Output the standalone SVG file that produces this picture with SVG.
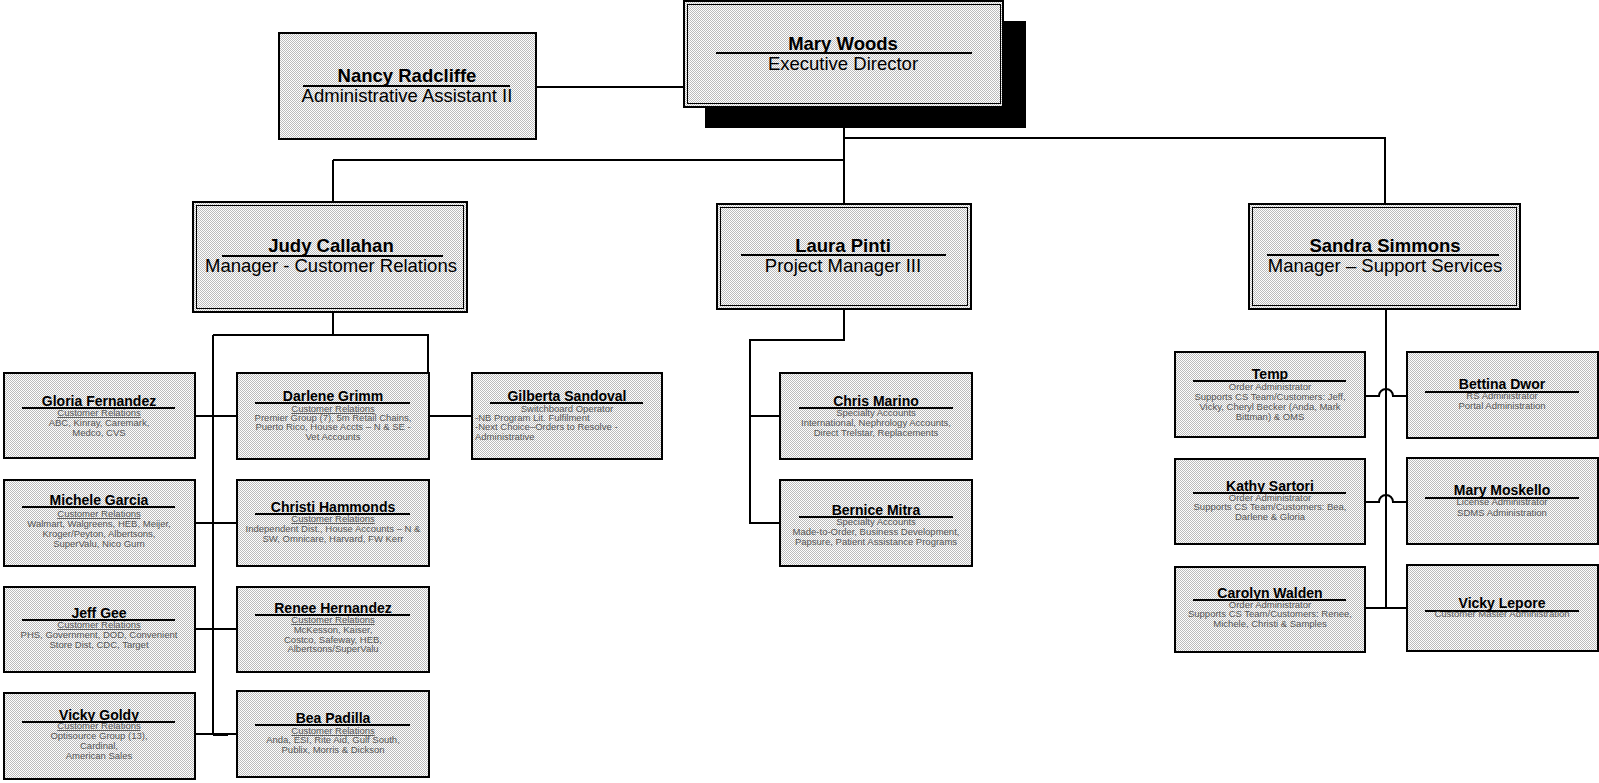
<svg xmlns="http://www.w3.org/2000/svg" width="1599" height="783" viewBox="0 0 1599 783">
<defs>
  <pattern id="dots" width="2" height="2" patternUnits="userSpaceOnUse">
    <rect width="2" height="2" fill="#ffffff"/>
    <rect width="1" height="1" fill="#bcbcbc"/>
    <rect x="1" y="1" width="1" height="1" fill="#bcbcbc"/>
  </pattern>
</defs>
<style>
  text { font-family: "Liberation Sans", Arial, sans-serif; }
  .box { fill: url(#dots); stroke: #000; stroke-width: 2; }
  .inner { fill: none; stroke: #000; stroke-width: 1; }
  .rule { stroke: #000; stroke-width: 2; }
  .big { font-size: 18.5px; font-weight: bold; text-anchor: middle; fill: #000; }
  .role { font-size: 18.5px; text-anchor: middle; fill: #000; }
  .nm { font-size: 14px; font-weight: bold; text-anchor: middle; fill: #000; }
  .ln { font-size: 9.5px; text-anchor: middle; fill: #555; }
  .lnl { font-size: 9.5px; fill: #555; }
  .ul { text-decoration: underline; }
  .wire { fill: none; stroke: #000; stroke-width: 2; }
</style>

<!-- connectors -->
<g id="connectors">
  <path class="wire" d="M536,87 H685"/>
  <path class="wire" d="M844,128 V204"/>
  <path class="wire" d="M844,138 H1385 V204"/>
  <path class="wire" d="M333,160 H844"/>
  <path class="wire" d="M333,160 V202"/>
  <path class="wire" d="M333,312 V335"/>
  <path class="wire" d="M213,335 H428 V416 H472"/>
  <path class="wire" d="M213,335 V735"/>
  <path class="wire" d="M195,416 H237"/>
  <path class="wire" d="M195,523 H237"/>
  <path class="wire" d="M195,629 H237"/>
  <path class="wire" d="M195,734 H237"/>
  <rect x="213" y="733" width="15" height="3" fill="#000"/>
  <path class="wire" d="M844,309 V340 H750 V523 H780"/>
  <path class="wire" d="M750,416 H780"/>
  <path class="wire" d="M1386,308 V608"/>
  <path class="wire" d="M1365,396 H1379 A7,7 0 0 1 1393,396 H1407"/>
  <path class="wire" d="M1365,502 H1379 A7,7 0 0 1 1393,502 H1407"/>
  <path class="wire" d="M1365,608 H1407"/>
</g>

<!-- top level -->
<g id="mary-woods">
  <rect x="705" y="21" width="321" height="107" fill="#000"/>
  <rect class="box" x="684" y="1" width="319" height="106"/>
  <rect class="inner" x="687.5" y="4.5" width="313" height="99"/>
  <line class="rule" x1="716" y1="53" x2="972" y2="53"/>
  <text class="big" x="843" y="50">Mary Woods</text>
  <text class="role" x="843" y="70">Executive Director</text>
</g>

<g id="nancy-radcliffe">
  <rect class="box" x="279" y="33" width="257" height="106"/>
  <line class="rule" x1="303" y1="86" x2="510" y2="86"/>
  <text class="big" x="407" y="82">Nancy Radcliffe</text>
  <text class="role" x="407" y="102">Administrative Assistant II</text>
</g>

<!-- managers -->
<g id="judy-callahan">
  <rect class="box" x="193" y="202" width="274" height="110"/>
  <rect class="inner" x="196.5" y="205.5" width="267" height="103"/>
  <line class="rule" x1="222" y1="256" x2="443" y2="256"/>
  <text class="big" x="331" y="252">Judy Callahan</text>
  <text class="role" x="331" y="272">Manager - Customer Relations</text>
</g>

<g id="laura-pinti">
  <rect class="box" x="717" y="204" width="254" height="105"/>
  <rect class="inner" x="720.5" y="207.5" width="247" height="98"/>
  <line class="rule" x1="741" y1="255" x2="946" y2="255"/>
  <text class="big" x="843" y="252">Laura Pinti</text>
  <text class="role" x="843" y="272">Project Manager III</text>
</g>

<g id="sandra-simmons">
  <rect class="box" x="1249" y="204" width="271" height="105"/>
  <rect class="inner" x="1252.5" y="207.5" width="264" height="98"/>
  <line class="rule" x1="1267" y1="255" x2="1499" y2="255"/>
  <text class="big" x="1385" y="252">Sandra Simmons</text>
  <text class="role" x="1385" y="272">Manager – Support Services</text>
</g>

<!-- customer relations, left column -->
<g id="gloria-fernandez">
  <rect class="box" x="4" y="373" width="191" height="85"/>
  <line class="rule" x1="22" y1="408" x2="175" y2="408"/>
  <text class="nm" x="99" y="406">Gloria Fernandez</text>
  <text class="ln ul" x="99" y="416">Customer Relations</text>
  <text class="ln" x="99" y="426">ABC, Kinray, Caremark,</text>
  <text class="ln" x="99" y="436">Medco, CVS</text>
</g>

<g id="michele-garcia">
  <rect class="box" x="4" y="480" width="191" height="86"/>
  <line class="rule" x1="22" y1="507" x2="175" y2="507"/>
  <text class="nm" x="99" y="505">Michele Garcia</text>
  <text class="ln ul" x="99" y="517">Customer Relations</text>
  <text class="ln" x="99" y="527">Walmart, Walgreens, HEB, Meijer,</text>
  <text class="ln" x="99" y="537">Kroger/Peyton, Albertsons,</text>
  <text class="ln" x="99" y="547">SuperValu, Nico Gurn</text>
</g>

<g id="jeff-gee">
  <rect class="box" x="4" y="587" width="191" height="85"/>
  <line class="rule" x1="22" y1="620" x2="175" y2="620"/>
  <text class="nm" x="99" y="618">Jeff Gee</text>
  <text class="ln ul" x="99" y="628">Customer Relations</text>
  <text class="ln" x="99" y="638">PHS, Government, DOD, Convenient</text>
  <text class="ln" x="99" y="648">Store Dist, CDC, Target</text>
</g>

<g id="vicky-goldy">
  <rect class="box" x="4" y="693" width="191" height="86"/>
  <line class="rule" x1="22" y1="722" x2="175" y2="722"/>
  <text class="nm" x="99" y="720">Vicky Goldy</text>
  <text class="ln ul" x="99" y="729">Customer Relations</text>
  <text class="ln" x="99" y="739">Optisource Group (13),</text>
  <text class="ln" x="99" y="749">Cardinal,</text>
  <text class="ln" x="99" y="759">American Sales</text>
</g>

<!-- customer relations, right column -->
<g id="darlene-grimm">
  <rect class="box" x="237" y="373" width="192" height="86"/>
  <line class="rule" x1="255" y1="403" x2="410" y2="403"/>
  <text class="nm" x="333" y="401">Darlene Grimm</text>
  <text class="ln ul" x="333" y="412">Customer Relations</text>
  <text class="ln" x="333" y="421">Premier Group (7), 5m Retail Chains,</text>
  <text class="ln" x="333" y="430">Puerto Rico,  House Accts – N &amp; SE -</text>
  <text class="ln" x="333" y="440">Vet Accounts</text>
</g>

<g id="christi-hammonds">
  <rect class="box" x="237" y="480" width="192" height="86"/>
  <line class="rule" x1="255" y1="514" x2="410" y2="514"/>
  <text class="nm" x="333" y="512">Christi Hammonds</text>
  <text class="ln ul" x="333" y="522">Customer Relations</text>
  <text class="ln" x="333" y="532">Independent Dist., House Accounts – N &amp;</text>
  <text class="ln" x="333" y="542">SW, Omnicare, Harvard, FW Kerr</text>
</g>

<g id="renee-hernandez">
  <rect class="box" x="237" y="587" width="192" height="85"/>
  <line class="rule" x1="255" y1="615" x2="410" y2="615"/>
  <text class="nm" x="333" y="613">Renee Hernandez</text>
  <text class="ln ul" x="333" y="623">Customer Relations</text>
  <text class="ln" x="333" y="633">McKesson, Kaiser,</text>
  <text class="ln" x="333" y="643">Costco, Safeway, HEB,</text>
  <text class="ln" x="333" y="652">Albertsons/SuperValu</text>
</g>

<g id="bea-padilla">
  <rect class="box" x="237" y="691" width="192" height="86"/>
  <line class="rule" x1="255" y1="725" x2="410" y2="725"/>
  <text class="nm" x="333" y="723">Bea Padilla</text>
  <text class="ln ul" x="333" y="734">Customer Relations</text>
  <text class="ln" x="333" y="743">Anda, ESI, Rite Aid, Gulf South,</text>
  <text class="ln" x="333" y="753">Publix, Morris &amp; Dickson</text>
</g>

<g id="gilberta-sandoval">
  <rect class="box" x="472" y="373" width="190" height="86"/>
  <line class="rule" x1="490" y1="403" x2="643" y2="403"/>
  <text class="nm" x="567" y="401">Gilberta Sandoval</text>
  <text class="ln" x="567" y="412">Switchboard Operator</text>
  <text class="lnl" x="475" y="421">-NB Program Lit. Fulfilment</text>
  <text class="lnl" x="475" y="430">-Next Choice–Orders to Resolve -</text>
  <text class="lnl" x="475" y="440">Administrative</text>
</g>

<!-- specialty accounts -->
<g id="chris-marino">
  <rect class="box" x="780" y="373" width="192" height="86"/>
  <line class="rule" x1="799" y1="408" x2="953" y2="408"/>
  <text class="nm" x="876" y="406">Chris Marino</text>
  <text class="ln" x="876" y="416">Specialty Accounts</text>
  <text class="ln" x="876" y="426">International, Nephrology Accounts,</text>
  <text class="ln" x="876" y="436">Direct Trelstar, Replacements</text>
</g>

<g id="bernice-mitra">
  <rect class="box" x="780" y="480" width="192" height="86"/>
  <line class="rule" x1="799" y1="517" x2="953" y2="517"/>
  <text class="nm" x="876" y="515">Bernice Mitra</text>
  <text class="ln" x="876" y="525">Specialty Accounts</text>
  <text class="ln" x="876" y="535">Made-to-Order, Business Development,</text>
  <text class="ln" x="876" y="545">Papsure, Patient Assistance Programs</text>
</g>

<!-- support services -->
<g id="temp">
  <rect class="box" x="1175" y="352" width="190" height="85"/>
  <line class="rule" x1="1193" y1="381" x2="1346" y2="381"/>
  <text class="nm" x="1270" y="379">Temp</text>
  <text class="ln" x="1270" y="390">Order Administrator</text>
  <text class="ln" x="1270" y="400">Supports CS Team/Customers: Jeff,</text>
  <text class="ln" x="1270" y="410">Vicky, Cheryl Becker (Anda, Mark</text>
  <text class="ln" x="1270" y="420">Bittman) &amp; OMS</text>
</g>

<g id="kathy-sartori">
  <rect class="box" x="1175" y="459" width="190" height="85"/>
  <line class="rule" x1="1193" y1="493" x2="1346" y2="493"/>
  <text class="nm" x="1270" y="491">Kathy Sartori</text>
  <text class="ln" x="1270" y="501">Order Administrator</text>
  <text class="ln" x="1270" y="510">Supports CS Team/Customers: Bea,</text>
  <text class="ln" x="1270" y="520">Darlene &amp; Gloria</text>
</g>

<g id="carolyn-walden">
  <rect class="box" x="1175" y="567" width="190" height="85"/>
  <line class="rule" x1="1193" y1="600" x2="1346" y2="600"/>
  <text class="nm" x="1270" y="598">Carolyn Walden</text>
  <text class="ln" x="1270" y="608">Order Administrator</text>
  <text class="ln" x="1270" y="617">Supports CS Team/Customers: Renee,</text>
  <text class="ln" x="1270" y="627">Michele, Christi &amp; Samples</text>
</g>

<g id="bettina-dwor">
  <rect class="box" x="1407" y="352" width="191" height="86"/>
  <line class="rule" x1="1425" y1="392" x2="1579" y2="392"/>
  <text class="nm" x="1502" y="389">Bettina Dwor</text>
  <text class="ln" x="1502" y="399">RS Administrator</text>
  <text class="ln" x="1502" y="409">Portal Administration</text>
</g>

<g id="mary-moskello">
  <rect class="box" x="1407" y="458" width="191" height="86"/>
  <line class="rule" x1="1425" y1="498" x2="1579" y2="498"/>
  <text class="nm" x="1502" y="495">Mary Moskello</text>
  <text class="ln" x="1502" y="505">License Administrator</text>
  <text class="ln" x="1502" y="516">SDMS Administration</text>
</g>

<g id="vicky-lepore">
  <rect class="box" x="1407" y="565" width="191" height="86"/>
  <line class="rule" x1="1425" y1="611" x2="1579" y2="611"/>
  <text class="nm" x="1502" y="608">Vicky Lepore</text>
  <text class="ln" x="1502" y="617">Customer Master Administration</text>
</g>
</svg>
